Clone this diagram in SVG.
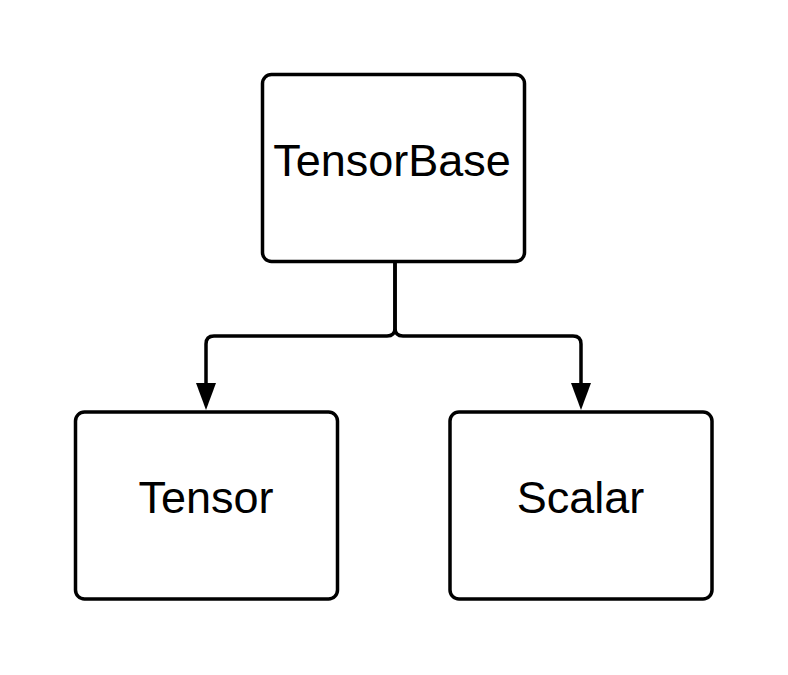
<svg xmlns="http://www.w3.org/2000/svg" width="788" height="675" viewBox="0 0 788 675">
<style>
.box{fill:#fff;stroke:#000;stroke-width:3.5}
.lbl{font-family:"Liberation Sans",Arial,sans-serif;font-size:45px;fill:#000;text-anchor:middle}
.conn{fill:none;stroke:#000;stroke-width:3.5}
.head{fill:#000}
</style>
<rect width="788" height="675" fill="#fff"/>
<g id="connectors">
<path class="conn" d="M395,262 V328 Q395,336 403,336 H573 Q581,336 581,344 V388"/>
<path class="conn" d="M395,262 V328 Q395,336 387,336 H214 Q206,336 206,344 V388"/>
<path class="head" d="M196,383 L216,383 L206,410 Z"/>
<path class="head" d="M571,383 L591,383 L581,410 Z"/>
</g>
<g id="TensorBase">
<rect class="box" x="262.5" y="74.5" width="262" height="187" rx="9"/>
<text class="lbl" x="392" y="176">TensorBase</text>
</g>
<g id="Tensor">
<rect class="box" x="75.5" y="412" width="262" height="187" rx="9"/>
<text class="lbl" x="206" y="513">Tensor</text>
</g>
<g id="Scalar">
<rect class="box" x="450" y="412" width="262" height="187" rx="9"/>
<text class="lbl" x="580.5" y="513">Scalar</text>
</g>
</svg>
